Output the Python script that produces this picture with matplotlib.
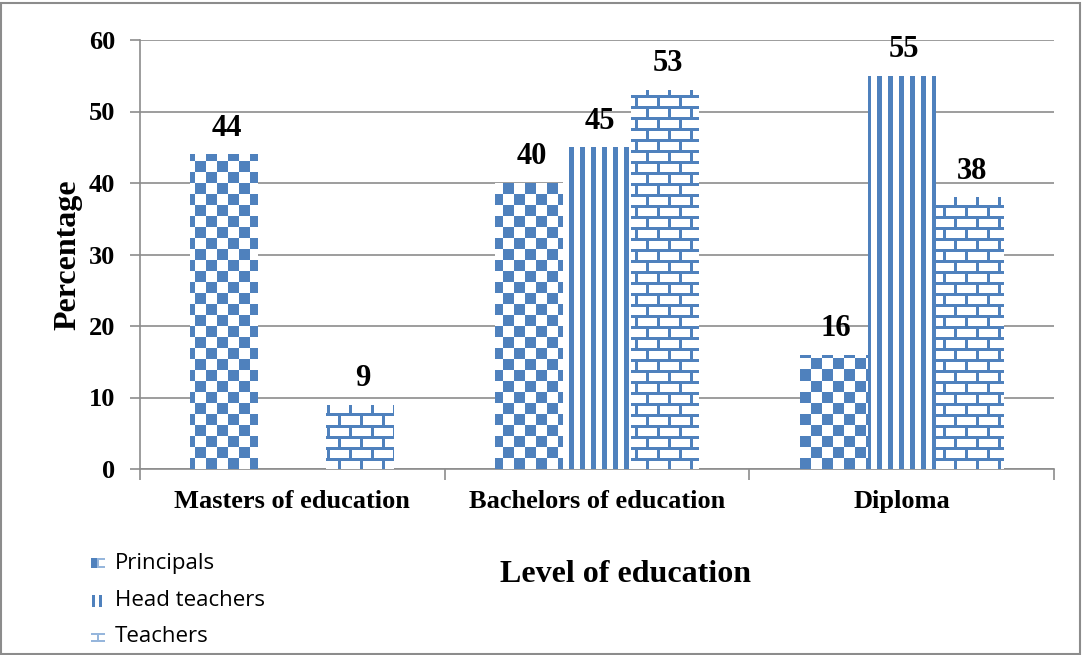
import numpy as np
import matplotlib
matplotlib.use("Agg")
import matplotlib.pyplot as plt
from matplotlib.patches import Rectangle

categories = ["Masters of education", "Bachelors of education", "Diploma"]
series_names = ["Principals", "Head teachers", "Teachers"]
principals = [44, 40, 16]
head_teachers = [0, 45, 55]
teachers = [9, 53, 38]
y_ticks = [0, 10, 20, 30, 40, 50, 60]

BLUE = np.array([79, 129, 189]) / 255.0
LIGHT = np.array([150, 182, 220]) / 255.0
WHITE = np.array([1.0, 1.0, 1.0])
GRID = "#8c8c8c"
SERIF = "Liberation Serif"

W, H = 1083, 655
fig = plt.figure(figsize=(W / 100, H / 100), dpi=100)
ax_l, ax_r, ax_t, ax_b = 140, 1054, 40, 469
ax = fig.add_axes([ax_l / W, 1 - ax_b / H, (ax_r - ax_l) / W, (ax_b - ax_t) / H])

pw, ph = ax_r - ax_l, ax_b - ax_t
yy, xx = np.mgrid[0:ph, 0:pw]


def to_rgb(mask):
    img = np.empty(mask.shape + (3,))
    img[:] = WHITE
    img[mask] = BLUE
    return img


# fill patterns, built in screen pixels over the plotting area
checker = to_rgb(((xx // 11) + (yy // 11)) % 2 == 0)
stripes = to_rgb((xx % 11) < 5)
row = yy // 11
brick_h = (yy % 11) < 3
brick_v = ((xx + (row % 2) * 11) % 22) < 3
bricks = to_rgb(brick_h | brick_v)
patterns = [checker, stripes, bricks]

x = np.arange(len(categories))
bw = 0.223
offsets = [-bw, 0.0, bw]
values = [principals, head_teachers, teachers]

for vals, off, pat in zip(values, offsets, patterns):
    bars = ax.bar(x + off, vals, width=bw, color="none", edgecolor="none", zorder=3)
    for bar, v in zip(bars, vals):
        if v <= 0:
            continue
        im = ax.imshow(pat, extent=(-0.5, 2.5, 0, 60), origin="upper",
                       interpolation="nearest", aspect="auto", zorder=3)
        im.set_clip_path(bar)
        ax.text(bar.get_x() + bar.get_width() / 2 + 0.008, v + 2.6, f"{v}",
                ha="center", va="baseline", fontsize=22, fontweight="bold",
                family=SERIF, zorder=5)

ax.set_aspect("auto")
ax.set_xlim(-0.5, 2.5)
ax.set_ylim(0, 60)

ax.set_yticks(y_ticks)
ax.set_yticklabels([str(t) for t in y_ticks], fontsize=19, fontweight="bold",
                   family=SERIF)
ax.yaxis.grid(True, color=GRID, linewidth=1.2, zorder=0)
ax.set_axisbelow(True)
ax.tick_params(axis="y", length=7, color=GRID, width=1.2, pad=11)

ax.set_xticks(x)
ax.set_xticklabels(categories, fontsize=19, fontweight="bold", family=SERIF)
ax.tick_params(axis="x", length=0, pad=15)
ax.set_xticks([-0.5, 0.5, 1.5, 2.5], minor=True)
ax.tick_params(axis="x", which="minor", length=8, color=GRID, width=1.2)

for side in ["top", "right"]:
    ax.spines[side].set_visible(False)
for side in ["left", "bottom"]:
    ax.spines[side].set_color(GRID)
    ax.spines[side].set_linewidth(1.2)

fig.text(68 / W, 1 - 255 / H, "Percentage", rotation=90, ha="center", va="center",
         fontsize=23, fontweight="bold", family=SERIF)
fig.text(625 / W, 1 - 574 / H, "Level of education", ha="center", va="center",
         fontsize=23, fontweight="bold", family=SERIF)

# legend swatches (14x14 px) and labels
n = 14
sw = []
m = np.zeros((n, n), dtype=int)
m[2:12, 0:6] = 2
m[2:4, 6:14] = 1
m[10:12, 6:14] = 1
m[2:12, 6:8] = 1
sw.append(m)
m = np.zeros((n, n), dtype=int)
m[1:13, 1:4] = 2
m[1:13, 8:11] = 2
sw.append(m)
m = np.zeros((n, n), dtype=int)
m[3:5, 0:14] = 1
m[10:12, 0:14] = 1
m[3:12, 6:8] = 1
sw.append(m)


def swatch_rgb(mask):
    img = np.empty(mask.shape + (3,))
    img[:] = WHITE
    img[mask == 1] = LIGHT
    img[mask == 2] = BLUE
    return img


legend_y = [563, 601, 637]
for name, mask, yc in zip(series_names, sw, legend_y):
    iax = fig.add_axes([91 / W, 1 - (yc + 7) / H, n / W, n / H])
    iax.imshow(swatch_rgb(mask), interpolation="nearest", aspect="auto")
    iax.set_axis_off()
    fig.text(115 / W, 1 - yc / H, name, ha="left", va="center", fontsize=16,
             family="Open Sans")

fig.patches.append(Rectangle((1 / W, 1 / H), 1 - 4 / W, 1 - 4 / H,
                             transform=fig.transFigure, fill=False,
                             edgecolor="#8c8c8c", linewidth=1.5))

fig.savefig("out.png", dpi=100)
